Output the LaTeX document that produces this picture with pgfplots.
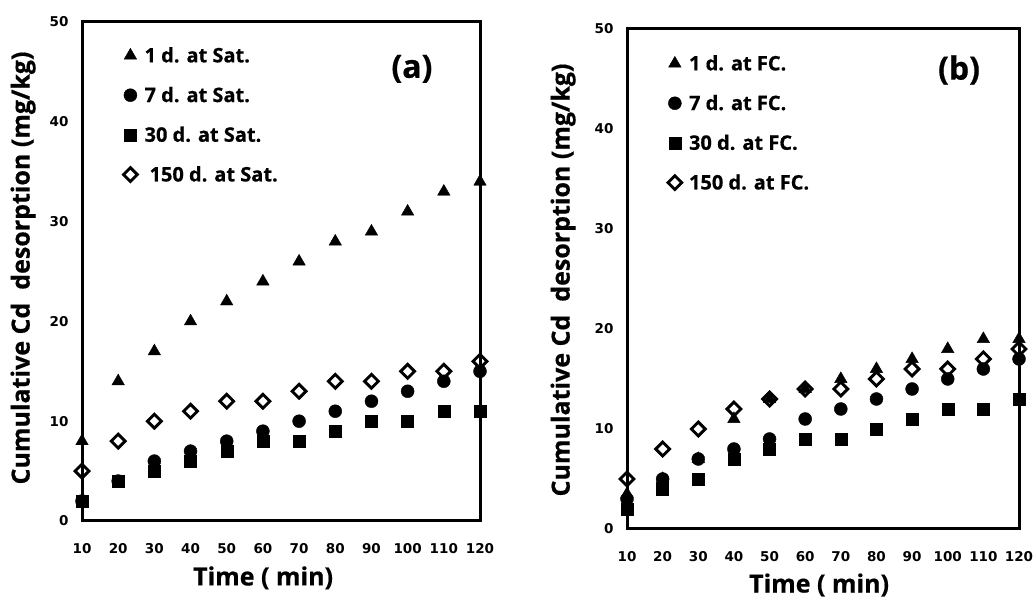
\documentclass[border=0pt]{standalone}
\usepackage{fontspec}
\setmainfont{Open Sans}[BoldFeatures={FakeBold=0.6}]
\newfontfamily\tickfont{DejaVu Sans}
\usepackage{pgfplots}
\pgfplotsset{compat=1.18}
\pgfplotsset{
  panel/.style={
    scale only axis, clip=false,
    axis line style={line width=3pt},
    xmin=10,xmax=120,ymin=0,ymax=50,
    xtick={10,20,...,120}, ytick={0,10,...,50},
    major tick length=0pt,
    /pgf/number format/assume math mode=true,
    tick label style={font=\tickfont\bfseries\fontsize{13.5}{14}\selectfont},
    xticklabel style={yshift=-19pt},
    yticklabel style={xshift=-10pt},
    label style={font=\bfseries\fontsize{25}{28}\selectfont},
    legend style={draw=none, fill=none, font=\bfseries\fontsize{20}{22}\selectfont,
      cells={anchor=west}, anchor=north west},
    legend image code/.code={\draw[#1] plot coordinates {(0pt,0pt)}; \path (-8pt,0pt) (12pt,0pt);},
  },
  s1/.style={only marks, mark=triangle*, mark size=7.2pt, black},
  s7/.style={only marks, mark=*, mark size=6.5pt, black},
  s30/.style={only marks, mark=square*, mark size=6pt, black},
  s150/.style={only marks, mark=square, mark size=4.9pt, black, mark options={rotate=45, fill=white, line width=2.9pt}},
}
\begin{document}
\begin{tikzpicture}
\useasboundingbox (0,0) rectangle (1034pt,599pt);
\begin{axis}[panel, at={(82pt,78pt)}, anchor=south west, width=398pt, height=499pt,
  xlabel={Time ( min)}, ylabel={Cumulative Cd\ \ desorption (mg/kg)},
  xlabel style={at={(axis description cs:0.455,-0.114)}, anchor=center},
  ylabel style={at={(axis description cs:-0.148,0.507)}, anchor=center, rotate=0},
  legend style={at={(axis description cs:0.093,0.958)}, row sep=19pt}]
\draw[line width=3pt, line join=miter] (rel axis cs:0,0) rectangle (rel axis cs:1,1);
\addplot[s1] coordinates {(10,8)(20,14)(30,17)(40,20)(50,22)(60,24)(70,26)(80,28)(90,29)(100,31)(110,33)(120,34)};
\addplot[s7] coordinates {(10,2)(20,4)(30,6)(40,7)(50,8)(60,9)(70,10)(80,11)(90,12)(100,13)(110,14)(120,15)};
\addplot[s30] coordinates {(10,2)(20,4)(30,5)(40,6)(50,7)(60,8)(70,8)(80,9)(90,10)(100,10)(110,11)(120,11)};
\addplot[s150] coordinates {(10,5)(20,8)(30,10)(40,11)(50,12)(60,12)(70,13)(80,14)(90,14)(100,15)(110,15)(120,16)};
\legend{1 d. at Sat., 7 d. at Sat., 30 d. at Sat., \hspace{5pt}150 d. at Sat.}
\node[font=\bfseries\fontsize{32}{34}\selectfont] at (rel axis cs:0.829,0.906) {(a)};
\end{axis}
\begin{axis}[panel, at={(627pt,70pt)}, anchor=south west, width=392pt, height=500pt,
  xlabel={Time ( min)}, ylabel={Cumulative Cd\ \ desorption (mg/kg)},
  xlabel style={at={(axis description cs:0.49,-0.112)}, anchor=center},
  ylabel style={at={(axis description cs:-0.163,0.498)}, anchor=center, rotate=0},
  legend style={at={(axis description cs:0.093,0.956)}, row sep=19pt}]
\draw[line width=3pt, line join=miter] (rel axis cs:0,0) rectangle (rel axis cs:1,1);
\addplot[s1] coordinates {(10,3.5)(20,5)(30,7)(40,11)(50,13)(60,14)(70,15)(80,16)(90,17)(100,18)(110,19)(120,19)};
\addplot[s7] coordinates {(10,3)(20,5)(30,7)(40,8)(50,9)(60,11)(70,12)(80,13)(90,14)(100,15)(110,16)(120,17)};
\addplot[s30] coordinates {(10,2)(20,4)(30,5)(40,7)(50,8)(60,9)(70,9)(80,10)(90,11)(100,12)(110,12)(120,13)};
\addplot[s150] coordinates {(10,5)(20,8)(30,10)(40,12)(50,13)(60,14)(70,14)(80,15)(90,16)(100,16)(110,17)(120,18)};
\legend{1 d. at FC., 7 d. at FC., 30 d. at FC., 150 d. at FC.}
\node[font=\bfseries\fontsize{32}{34}\selectfont] at (rel axis cs:0.847,0.918) {(b)};
\end{axis}
\end{tikzpicture}
\end{document}
